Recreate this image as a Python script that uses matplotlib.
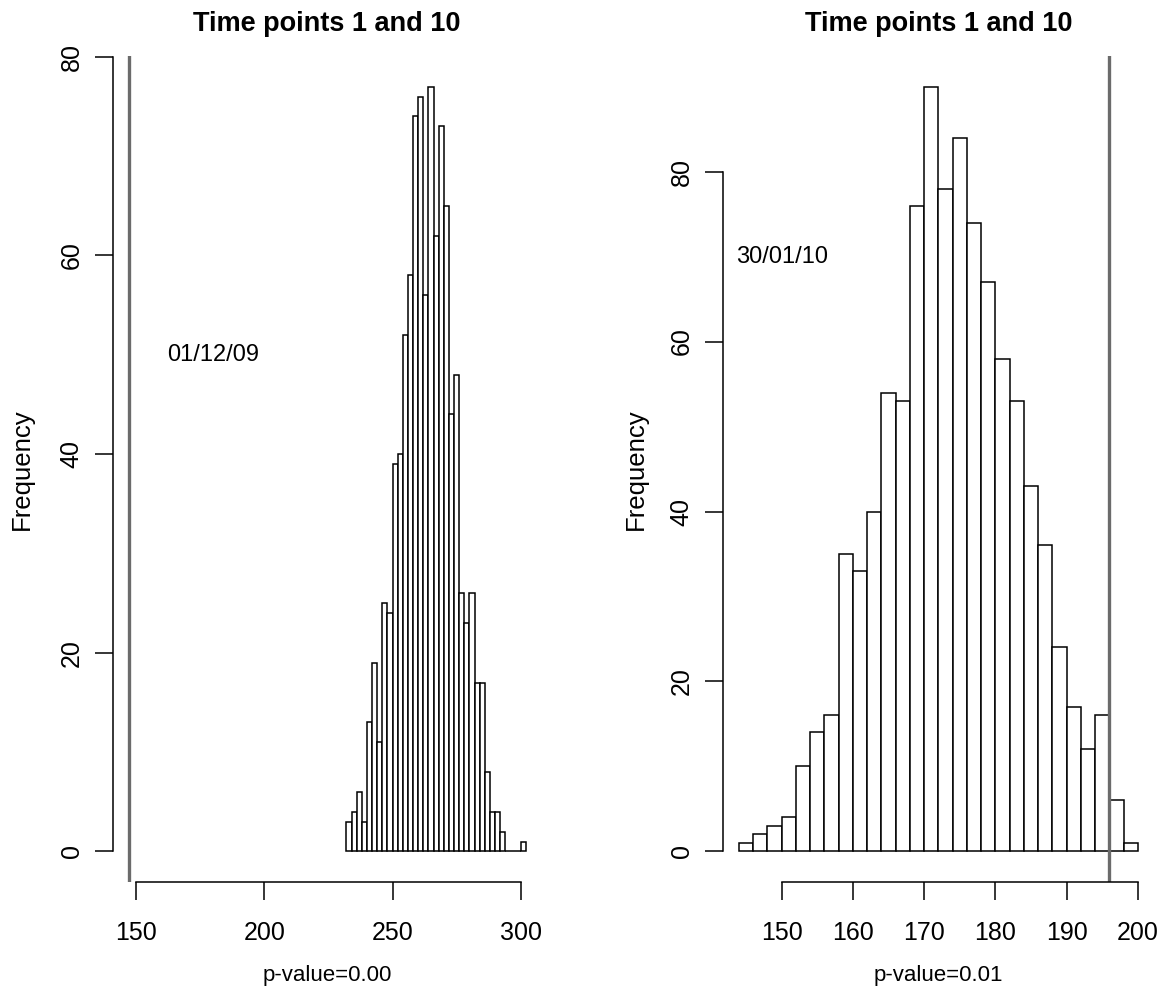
import matplotlib
matplotlib.use("Agg")
import matplotlib.pyplot as plt
import numpy as np

plt.rcParams['font.family'] = ['Liberation Sans', 'DejaVu Sans']

# histogram data (bin width 2)
bin_width = 2
title = "Time points 1 and 10"
y_ticks = [0, 20, 40, 60, 80]

left_start = 232
left_counts = [3, 4, 6, 3, 13, 19, 11, 25, 24, 39, 40, 52, 58, 74, 76, 56, 77, 62,
               73, 65, 44, 48, 26, 23, 26, 17, 17, 8, 4, 4, 2, 0, 0, 0, 1]
left_obs = 147
left_xticks = [150, 200, 250, 300]
left_date = "01/12/09"
left_date_xy = (180, 50)
left_pvalue = "p-value=0.00"

right_start = 144
right_counts = [1, 2, 3, 4, 10, 14, 16, 35, 33, 40, 54, 53, 76, 90, 78, 84, 74, 67,
                58, 53, 43, 36, 24, 17, 12, 16, 6, 1]
right_obs = 196
right_xticks = [150, 160, 170, 180, 190, 200]
right_date = "30/01/10"
right_date_xy = (150, 70)
right_pvalue = "p-value=0.01"


def draw_panel(ax, start, counts, obs, xticks, date, date_xy, pvalue, ylab_x):
    edges = start + bin_width * np.arange(len(counts) + 1)
    ax.bar(edges[:-1], counts, width=bin_width, align='edge',
           color='white', edgecolor='black', linewidth=1.1)
    ax.axvline(obs, color='#6b6b6b', lw=2.4)

    # R style 4% padding
    lo = min(edges[0], obs)
    hi = max(edges[-1], obs)
    pad = 0.04 * (hi - lo)
    ax.set_xlim(lo - pad, hi + pad)
    top = max(counts)
    ax.set_ylim(-0.04 * top, 1.04 * top)

    ax.spines[['top', 'right']].set_visible(False)
    ax.spines['left'].set_bounds(y_ticks[0], y_ticks[-1])
    ax.spines['bottom'].set_bounds(xticks[0], xticks[-1])
    for s in ['left', 'bottom']:
        ax.spines[s].set_linewidth(1.1)
    ax.set_xticks(xticks)
    ax.set_yticks(y_ticks)
    ax.tick_params(direction='out', length=13, width=1.1, labelsize=18, pad=8)
    ax.tick_params(axis='x', pad=15)
    ax.tick_params(axis='y', labelrotation=90)
    for lbl in ax.get_yticklabels():
        lbl.set_va('center')

    ax.text(0.5, 1.039, title, transform=ax.transAxes, ha='center', va='center',
            fontsize=19.5, fontweight='bold')
    ax.text(ylab_x, 0.5, "Frequency", transform=ax.transAxes, rotation=90,
            ha='center', va='center', fontsize=18.5)
    ax.text(0.5, -0.113, pvalue, transform=ax.transAxes, ha='center', va='center',
            fontsize=16)
    ax.text(date_xy[0], date_xy[1], date, ha='center', va='center', fontsize=17)


fig = plt.figure(figsize=(11.67, 9.98), dpi=100)
ax1 = fig.add_axes([0.0966, 0.1162, 0.3676, 0.8277])
ax2 = fig.add_axes([0.6195, 0.1162, 0.3693, 0.8277])

draw_panel(ax1, left_start, left_counts, left_obs, left_xticks,
           left_date, left_date_xy, left_pvalue, -0.211)
draw_panel(ax2, right_start, right_counts, right_obs, right_xticks,
           right_date, right_date_xy, right_pvalue, -0.202)

fig.savefig("out.png", dpi=100)
